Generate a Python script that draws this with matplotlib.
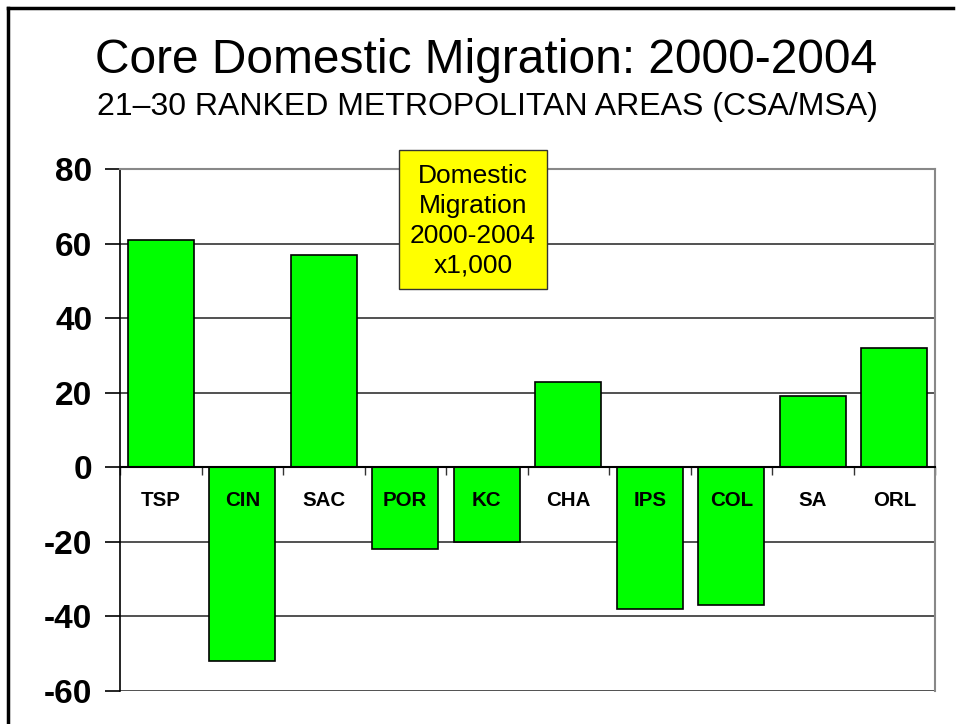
import matplotlib.pyplot as plt
from matplotlib.patches import Rectangle
from matplotlib.lines import Line2D

plt.rcParams['font.family'] = ['Liberation Sans', 'DejaVu Sans']

# values, thousands of people
metros = ['TSP', 'CIN', 'SAC', 'POR', 'KC', 'CHA', 'IPS', 'COL', 'SA', 'ORL']
migration = [61, -52, 57, -22, -20, 23, -38, -37, 19, 32]
y_ticks = [-60, -40, -20, 0, 20, 40, 60, 80]

W, H = 961, 724
fig = plt.figure(figsize=(W / 100, H / 100), dpi=100)

# slide frame (left and top edges only)
for xs, ys in [((8, 8), (8, 724)), ((8, 953), (8, 8))]:
    fig.add_artist(Line2D([x / W for x in xs], [1 - y / H for y in ys],
                          transform=fig.transFigure, color='black', lw=2.5))

fig.text(486 / W, 1 - 73 / H, 'Core Domestic Migration: 2000-2004',
         ha='center', va='baseline', fontsize=34.5)
fig.text(487 / W, 1 - 115 / H, '21\u201330 RANKED METROPOLITAN AREAS (CSA/MSA)',
         ha='center', va='baseline', fontsize=23)

ax = fig.add_axes([120 / W, 1 - 691 / H, 815 / W, 522 / H])
ax.set_axisbelow(True)
x = list(range(len(metros)))
ax.bar(x, migration, width=0.81, color='#00ff00', edgecolor='black', linewidth=1.2, zorder=2)

ax.set_xlim(-0.5, len(metros) - 0.5)
ax.set_ylim(-60, 80)
ax.set_yticks(y_ticks)
ax.set_yticklabels([str(v) for v in y_ticks], fontsize=24, fontweight='bold')
ax.tick_params(axis='y', length=11, width=1.2, pad=9, color='black')
ax.yaxis.grid(True, color='#333333', linewidth=1.2)

# category boundary ticks on the zero line
ax.spines['bottom'].set_position(('data', 0))
ax.spines['bottom'].set_linewidth(1.5)
ax.set_xticks([i - 0.5 for i in x] + [len(metros) - 0.5])
ax.set_xticklabels([])
ax.tick_params(axis='x', length=6, width=1, direction='out', color='#333333')
ax.spines['top'].set_color('#888888')
ax.spines['top'].set_linewidth(1.5)
ax.spines['right'].set_color('#888888')
ax.spines['right'].set_linewidth(1.5)
ax.spines['left'].set_linewidth(1.2)

for i, name in enumerate(metros):
    ax.text(i, -10.4, name, ha='center', va='baseline', fontsize=14.8,
            fontweight='bold', zorder=5)

fig.add_artist(Rectangle((399 / W, 1 - 289 / H), 148 / W, 139 / H,
                         transform=fig.transFigure, facecolor='#ffff00',
                         edgecolor='#333333', linewidth=1))
fig.text(473 / W, 1 - 221 / H, 'Domestic\nMigration\n2000-2004\nx1,000',
         ha='center', va='center', fontsize=19, linespacing=1.3)

fig.savefig('out.png', dpi=100)
